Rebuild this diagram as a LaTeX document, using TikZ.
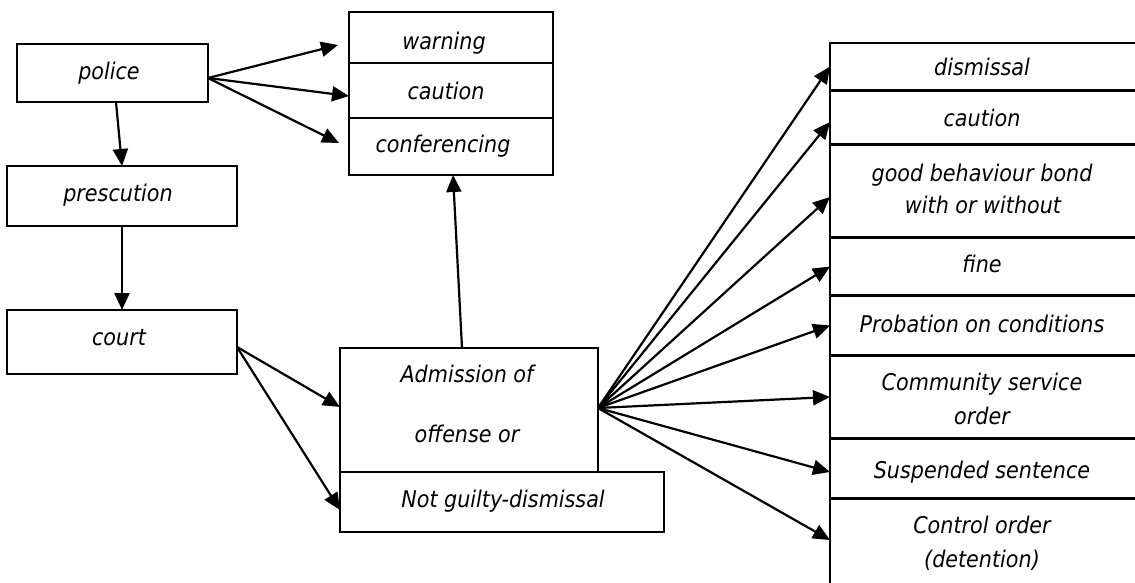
\documentclass[tikz,border=0pt]{standalone}
\usepackage{fontspec}
\setmainfont{DejaVu Sans}[FakeStretch=0.9]
\usetikzlibrary{arrows.meta}
\begin{document}
\begin{tikzpicture}[x=1pt,y=-1pt,
  box/.style={draw, line width=2pt, rectangle, inner sep=0pt, outer sep=0pt, anchor=north west},
  lbl/.style={anchor=base, inner sep=0pt, font=\fontsize{23}{32}\selectfont\itshape},
  arr/.style={line width=2.2pt, -{Triangle[length=17pt,width=15pt]}}]
\useasboundingbox (0,0) rectangle (1135,583);

% left column
\node[box, minimum width=191pt, minimum height=58pt] (police) at (17,44) {};
\node[box, minimum width=230pt, minimum height=60pt] (prosec) at (7,166) {};
\node[box, minimum width=230pt, minimum height=64pt] (court) at (7,310) {};
\node[lbl] (policeT) at (109,80) {police};
\node[lbl] (prosecT) at (118,201) {prescution};
\node[lbl] (courtT) at (119,345) {court};

% police outcomes
\node[box, minimum width=204pt, minimum height=51pt] (warn) at (349,12) {};
\node[box, minimum width=204pt, minimum height=55pt] (pcaut) at (349,63) {};
\node[box, minimum width=204pt, minimum height=57pt] (conf) at (349,118) {};
\node[lbl] (warnT) at (444,50) {warning};
\node[lbl] (pcautT) at (446,100) {caution};
\node[lbl] (confT) at (443,153) {conferencing};

% plea boxes
\node[box, minimum width=258pt, minimum height=124pt] (adm) at (340,348) {};
\node[box, minimum width=324pt, minimum height=60pt] (ng) at (340,472) {};
\node[lbl] (admT1) at (467,382) {Admission of};
\node[lbl] (admT2) at (467,442) {offense or};
\node[lbl] (ngT) at (503,507) {Not guilty-dismissal};

% sentencing options
\node[box, minimum width=320pt, minimum height=47pt] (dism) at (830,43) {};
\node[box, minimum width=320pt, minimum height=53pt] (caut) at (830,91) {};
\node[box, minimum width=320pt, minimum height=92pt] (good) at (830,145) {};
\node[box, minimum width=320pt, minimum height=57pt] (fine) at (830,238) {};
\node[box, minimum width=320pt, minimum height=59pt] (prob) at (830,296) {};
\node[box, minimum width=320pt, minimum height=82pt] (comm) at (830,356) {};
\node[box, minimum width=320pt, minimum height=59pt] (susp) at (830,439) {};
\node[box, minimum width=320pt, minimum height=100pt] (ctrl) at (830,499) {};
\node[lbl] (dismT) at (982,76) {dismissal};
\node[lbl] (cautT) at (982,127) {caution};
\node[lbl] (goodT1) at (982,182) {good behaviour bond};
\node[lbl] (goodT2) at (983,213) {with or without};
\node[lbl] (fineT) at (982,272) {fine};
\node[lbl] (probT) at (982,332) {Probation on conditions};
\node[lbl] (commT1) at (982,390) {Community service};
\node[lbl] (commT2) at (982,424) {order};
\node[lbl] (suspT) at (982,478) {Suspended sentence};
\node[lbl] (ctrlT1) at (982,533) {Control order};
\node[lbl] (ctrlT2) at (982,567) {(detention)};

% connectors
\draw[arr] ([xshift=3.5pt]police.south) -- (prosec.north);
\draw[arr] (prosec.south) -- (court.north);
\draw[arr] ([yshift=-5pt]police.east) -- ([xshift=-11pt,yshift=-7.5pt]warn.west);
\draw[arr] ([yshift=-5pt]police.east) -- ([yshift=-5.5pt]pcaut.west);
\draw[arr] ([yshift=-5pt]police.east) -- ([xshift=-10pt,yshift=3.5pt]conf.west);
\draw[arr] ([xshift=-7pt]adm.north) -- ([xshift=2pt]conf.south);
\draw[arr] ([yshift=-5pt]court.east) -- ([yshift=3pt]adm.west);
\draw[arr] ([yshift=-5pt]court.east) -- ([yshift=-8pt]ng.west);
\draw[arr] ([yshift=2pt]adm.east) -- (dism.west);
\draw[arr] ([yshift=2pt]adm.east) -- ([yshift=-4.5pt]caut.west);
\draw[arr] ([yshift=2pt]adm.east) -- ([yshift=-6pt]good.west);
\draw[arr] ([yshift=2pt]adm.east) -- (fine.west);
\draw[arr] ([yshift=2pt]adm.east) -- (prob.west);
\draw[arr] ([yshift=2pt]adm.east) -- (comm.west);
\draw[arr] ([yshift=2pt]adm.east) -- ([yshift=-3.5pt]susp.west);
\draw[arr] ([yshift=2pt]adm.east) -- ([yshift=9pt]ctrl.west);
\end{tikzpicture}
\end{document}
